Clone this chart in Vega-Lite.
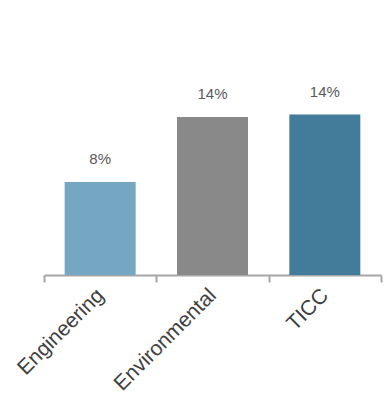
{
  "$schema": "https://vega.github.io/schema/vega-lite/v6.json",
  "autosize": "none",
  "width": 337,
  "height": 275,
  "padding": {"left": 44, "top": 0, "right": 8, "bottom": 121},
  "background": "white",
  "config": {
    "view": {"stroke": null},
    "font": "Liberation Sans"
  },
  "data": {
    "values": [
      {"group": "Engineering", "share": 0.08},
      {"group": "Environmental", "share": 0.136},
      {"group": "TICC", "share": 0.138}
    ]
  },
  "encoding": {
    "x": {
      "field": "group",
      "type": "nominal",
      "sort": null,
      "scale": {"paddingInner": 0, "paddingOuter": 0},
      "axis": {
        "title": null,
        "labelAngle": -45,
        "labelAlign": "right",
        "labelBaseline": "middle",
        "labelFontSize": 21,
        "labelColor": "#404040",
        "labelPadding": 10,
        "tickBand": "extent",
        "domainColor": "#a6a6a6",
        "domainWidth": 2,
        "tickColor": "#a6a6a6",
        "tickWidth": 2,
        "tickSize": 7
      }
    },
    "y": {
      "field": "share",
      "type": "quantitative",
      "scale": {"domain": [0, 0.2366], "nice": false},
      "axis": null
    }
  },
  "layer": [
    {
      "mark": {"type": "bar", "width": {"band": 0.632}},
      "encoding": {
        "color": {
          "field": "group",
          "type": "nominal",
          "scale": {
            "domain": ["Engineering", "Environmental", "TICC"],
            "range": ["#75a6c2", "#898989", "#437b9a"]
          },
          "legend": null
        }
      }
    },
    {
      "mark": {"type": "text", "dy": -15, "baseline": "bottom", "fontSize": 15, "color": "#595959"},
      "encoding": {
        "text": {"field": "share", "type": "quantitative", "format": ".0%"}
      }
    }
  ]
}
